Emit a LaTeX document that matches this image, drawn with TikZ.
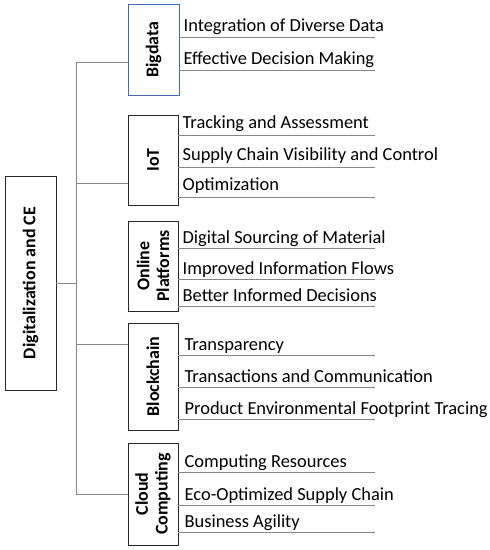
\documentclass[tikz,border=0pt]{standalone}
\usepackage{fontspec}
\setmainfont{Carlito}
\usetikzlibrary{positioning,calc}
\definecolor{rulegray}{RGB}{135,135,135}
\definecolor{boxblue}{RGB}{68,106,180}
\definecolor{boxdark}{RGB}{40,40,40}

\begin{document}
\begin{tikzpicture}[x=1bp,y=-1bp,
  tech/.style={draw=boxdark,line width=0.9pt,inner sep=0pt,minimum width=50bp},
  techlabel/.style={rotate=90,align=center,font=\bfseries\fontsize{18}{20}\selectfont},
  item/.style={anchor=base west,inner sep=0pt,font=\fontsize{18.5}{22}\selectfont},
  link/.style={draw=rulegray,line width=0.8pt}]
  \useasboundingbox (0,0) rectangle (490,550);
  % hub and branch boxes
  \node[tech,minimum width=51bp,minimum height=214bp,
        label={[techlabel]center:Digitalization and CE}] (main) at (30.5,283) {};
  \node[tech,draw=boxblue,minimum width=51bp,minimum height=91bp,
        label={[techlabel]center:Bigdata}] (bd) at (153.5,49.5) {};
  \node[tech,minimum height=90bp,label={[techlabel]center:IoT}] (iot) at (153,160) {};
  \node[tech,minimum height=90bp,label={[techlabel]center:Online\\Platforms}] (op) at (153,266) {};
  \node[tech,minimum height=107bp,label={[techlabel]center:Blockchain}] (bc) at (153,376.5) {};
  \node[tech,minimum height=102bp,label={[techlabel]center:Cloud\\Computing}] (cc) at (153,494) {};

  % trunk
  \coordinate (top) at (76,62);
  \coordinate (bot) at (76,494);
  \coordinate (jiot) at (76,183);
  \coordinate (jbc) at (76,344);
  \draw[link] (top) -- (bot);
  \draw[link] (main.east) -- (main.east -| top);
  \draw[link] (top) -- (top -| bd.west);
  \draw[link] (jiot) -- (jiot -| iot.west);
  \draw[link] (jbc) -- (jbc -| bc.west);
  \draw[link] (bot) -- (bot -| cc.west);

  % items
  \foreach \y/\t [count=\i] in {37/Integration of Diverse Data,70/Effective Decision Making}{
    \node[item] (bd\i) at ($(bd.east |- 0,\y)+(4,-5)$) {\t};
    \draw[link] (bd.east |- 0,\y) -- (375,\y);
  }
  \foreach \y/\t [count=\i] in {135/Tracking and Assessment,167/Supply Chain Visibility and Control,197/Optimization}{
    \node[item] (iot\i) at ($(iot.east |- 0,\y)+(4,-6)$) {\t};
    \draw[link] (iot.east |- 0,\y) -- (375,\y);
  }
  \foreach \y/\t [count=\i] in {248/Digital Sourcing of Material,279/Improved Information Flows,306/Better Informed Decisions}{
    \node[item] (op\i) at ($(op.east |- 0,\y)+(4,-5)$) {\t};
    \draw[link] (op.east |- 0,\y) -- (375,\y);
  }
  \foreach \y/\t [count=\i] in {355/Transparency,387/Transactions and Communication,419/Product Environmental Footprint Tracing}{
    \node[item] (bc\i) at ($(bc.east |- 0,\y)+(6,-5)$) {\t};
    \draw[link] (bc.east |- 0,\y) -- (375,\y);
  }
  \foreach \y/\t [count=\i] in {472/Computing Resources,505/Eco-Optimized Supply Chain,532/Business Agility}{
    \node[item] (cc\i) at ($(cc.east |- 0,\y)+(6,-5)$) {\t};
    \draw[link] (cc.east |- 0,\y) -- (375,\y);
  }
\end{tikzpicture}
\end{document}
